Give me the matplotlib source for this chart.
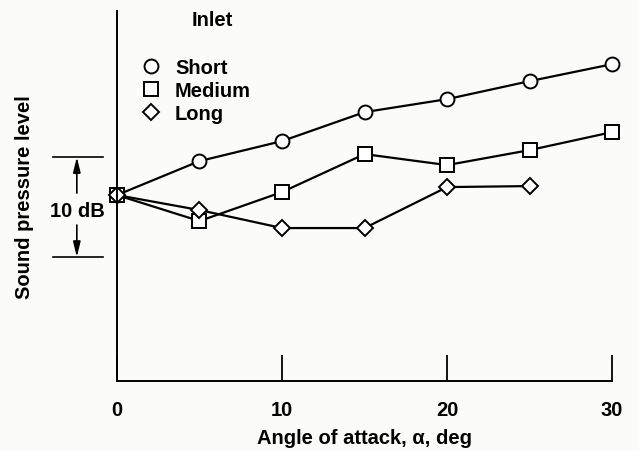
import matplotlib.pyplot as plt
import matplotlib.transforms as mtransforms
from matplotlib.lines import Line2D

plt.rcParams['font.family'] = ['Liberation Sans', 'DejaVu Sans']
plt.rcParams['font.weight'] = 'bold'
plt.rcParams['axes.labelweight'] = 'bold'

#---  data: relative sound pressure level (dB) vs angle of attack  ---
angle_short = [0, 5, 10, 15, 20, 25, 30]
spl_short = [0, 3.4, 5.4, 8.3, 9.6, 11.4, 13.1]
angle_medium = [0, 5, 10, 15, 20, 25, 30]
spl_medium = [0, -2.6, 0.3, 4.1, 3.0, 4.5, 6.3]
angle_long = [0, 5, 10, 15, 20, 25]
spl_long = [0, -1.5, -3.3, -3.3, 0.8, 0.9]
series_names = ['Short', 'Medium', 'Long']
series_markers = ['o', 's', 'D']
xticks = [0, 10, 20, 30]
scale_top, scale_bottom = 3.8, -6.2   # the 10 dB reference bar

fs = 14.5
fig = plt.figure(figsize=(6.39, 4.52), dpi=100, facecolor='#fbfbf9')
ax = fig.add_axes([0.183, 0.155, 0.775, 0.818])
ax.set_facecolor('#fbfbf9')

ax.set_xlim(0, 30)
ax.set_ylim(-18.6, 18.4)

#---  axes style  ---
for s in ['top', 'right']:
    ax.spines[s].set_visible(False)
for s in ['left', 'bottom']:
    ax.spines[s].set_linewidth(1.4)
ax.set_yticks([])
ax.set_xticks(xticks)
ax.tick_params(axis='x', direction='in', length=19, width=1.3, pad=14, labelsize=fs)
ax.set_xlabel('Angle of attack, \u03b1, deg', fontsize=fs, labelpad=6)
ax.set_ylabel('Sound pressure level', fontsize=fs, labelpad=60)

#---  data lines  ---
data = [(angle_short, spl_short), (angle_medium, spl_medium), (angle_long, spl_long)]
sizes = [10, 10, 8]
for (xs, ys), name, m, ms in zip(data, series_names, series_markers, sizes):
    ax.plot(xs, ys, color='black', lw=1.6, marker=m, ms=ms, mfc='white',
            mec='black', mew=1.4, label=name, clip_on=False)

#---  legend  ---
handles = [Line2D([], [], ls='none', marker=m, ms=ms, mfc='white', mec='black', mew=1.4)
           for m, ms in zip(series_markers, sizes)]
ax.legend(handles, series_names, loc='upper left', bbox_to_anchor=(0.03, 0.9),
          frameon=False, fontsize=fs, handlelength=0.95, handletextpad=0.7,
          labelspacing=0.2, borderpad=0)
ax.text(0.192, 0.978, 'Inlet', transform=ax.transAxes, fontsize=fs,
        ha='center', va='center')

#---  10 dB scale bar left of the axis  ---
trans = mtransforms.blended_transform_factory(ax.transAxes, ax.transData)
for yy in [scale_top, scale_bottom]:
    ax.plot([-0.129, -0.028], [yy, yy], color='black', lw=1.2,
            transform=trans, clip_on=False)
ax.text(-0.079, -1.5, '10 dB', transform=trans, fontsize=fs, ha='center', va='center')
arrow = dict(arrowstyle='-|>,head_length=0.9,head_width=0.22', color='black', lw=1.2,
             shrinkA=0, shrinkB=0)
ax.annotate('', xy=(-0.081, scale_top), xytext=(-0.081, 0.2),
            xycoords=trans, textcoords=trans, arrowprops=arrow, annotation_clip=False)
ax.annotate('', xy=(-0.081, scale_bottom), xytext=(-0.081, -3.0),
            xycoords=trans, textcoords=trans, arrowprops=arrow, annotation_clip=False)

plt.savefig('out.png', dpi=100, facecolor=fig.get_facecolor())
